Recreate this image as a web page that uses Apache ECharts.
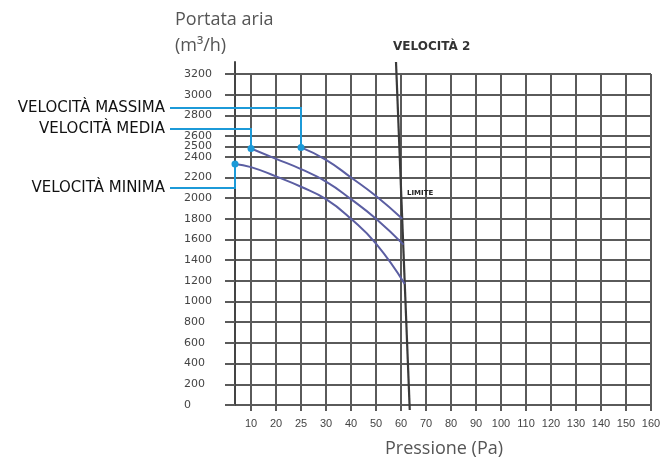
<!DOCTYPE html>
<html><head><meta charset="utf-8">
<script src="https://cdn.jsdelivr.net/npm/echarts@6/dist/echarts.min.js"></script>
<style>html,body{margin:0;padding:0;background:#fff}#c{width:670px;height:463px}</style>
</head><body><div id="c"></div>
<script>
// ---- data ----
const pressureLabels = ['10','20','25','30','40','50','60','70','80','90','100','110','120','130','140','150','160'];
const pressureValues = [10,20,25,30,40,50,60,70,80,90,100,110,120,130,140,150,160];
const flowTicks = [0,200,400,600,800,1000,1200,1400,1600,1800,2000,2200,2400,2500,2600,2800,3000,3200];

const massimaPa   = [25, 30, 40, 50, 60.5];
const massimaFlow = [2490, 2370, 2200, 2020, 1800];
const mediaPa     = [10, 20, 25, 30, 40, 50, 61];
const mediaFlow   = [2480, 2380, 2280, 2160, 1990, 1800, 1550];
const minimaPa    = [3.6, 10, 20, 25, 30, 40, 50, 61.5];
const minimaFlow  = [2330, 2300, 2210, 2110, 1990, 1800, 1560, 1170];
const limitePa    = [58, 63.5];
const limiteFlow  = [3316, -48];

const seriesNames = ['VELOCITÀ MASSIMA', 'VELOCITÀ MEDIA', 'VELOCITÀ MINIMA'];

// pressure (Pa) -> position on the (non-linear) pressure axis
function paToPos(pa) {
  const v = pressureValues, n = v.length;
  if (pa <= v[0]) return (pa - v[0]) / (v[1] - v[0]);
  for (let i = 0; i < n - 1; i++) {
    if (pa <= v[i + 1]) return i + (pa - v[i]) / (v[i + 1] - v[i]);
  }
  return (n - 1) + (pa - v[n - 1]) / (v[n - 1] - v[n - 2]);
}
const dotColor = '#1c9ad8';
function toData(pas, flows) {
  return pas.map((p, i) => {
    const item = { value: [paToPos(p), flows[i]] };
    if (i === 0) { item.symbol = 'circle'; item.symbolSize = 7; item.itemStyle = { color: dotColor }; }
    return item;
  });
}

const gridColor = '#5a5a5a';
const curveColor = '#5b5ea2';
const chart = echarts.init(document.getElementById('c'));
const curveSeries = (name, pas, flows) => ({
  name, type: 'line', xAxisIndex: 0, yAxisIndex: 0, smooth: 0.5, clip: false,
  symbol: 'none', showSymbol: true, data: toData(pas, flows),
  lineStyle: { color: curveColor, width: 2 }, itemStyle: { color: curveColor }, z: 5
});

chart.setOption({
  animation: false,
  title: [
    { text: 'Portata aria\n(m³/h)', left: 170, top: 2,
      textStyle: { fontFamily: 'Open Sans', fontSize: 18, fontWeight: 'normal', color: '#555', lineHeight: 26 } },
    { text: 'VELOCITÀ 2', left: 388, top: 36,
      textStyle: { fontFamily: 'DejaVu Sans', fontSize: 12, fontWeight: 'bold', color: '#333' } }
  ],
  grid: [
    { left: 235, right: 19, top: 62, bottom: 58 },
    { left: 251, right: 19, top: 74, bottom: 58 }
  ],
  xAxis: [
    // hidden positional axis spanning from the vertical axis line to the right border
    { gridIndex: 0, type: 'value', show: false, min: -0.64, max: pressureLabels.length - 1 },
    { gridIndex: 1, type: 'value', min: 0, max: pressureLabels.length - 1, interval: 1,
      axisLine: { lineStyle: { color: gridColor, width: 2 } },
      axisTick: { show: true, length: 6, lineStyle: { color: gridColor, width: 2 } },
      splitLine: { show: true, lineStyle: { color: gridColor, width: 2 } },
      axisLabel: { formatter: v => pressureLabels[Math.round(v)] || '', margin: 13,
        fontFamily: 'Liberation Sans', fontSize: 11, color: '#444' },
      name: 'Pressione (Pa)', nameLocation: 'middle', nameGap: 35,
      nameTextStyle: { fontFamily: 'Open Sans', fontSize: 18, color: '#555', padding: [0, 14, 0, 0] } }
  ],
  yAxis: [
    { gridIndex: 0, type: 'value', min: 0, max: 3316,
      axisLine: { show: true, onZero: false, lineStyle: { color: '#444', width: 2 } },
      axisTick: { show: true, length: 10, customValues: flowTicks, lineStyle: { color: gridColor, width: 2 } },
      axisLabel: { customValues: flowTicks, align: 'left', margin: 51, formatter: v => String(v),
        fontFamily: 'DejaVu Sans', fontSize: 11, color: '#444' },
      splitLine: { show: true, lineStyle: { color: gridColor, width: 2 } } },
    { gridIndex: 1, type: 'value', min: 0, max: 3200, show: false }
  ],
  series: [
    curveSeries(seriesNames[0], massimaPa, massimaFlow),
    curveSeries(seriesNames[1], mediaPa, mediaFlow),
    curveSeries(seriesNames[2], minimaPa, minimaFlow),
    { name: 'LIMITE', type: 'line', xAxisIndex: 0, yAxisIndex: 0, clip: false, symbol: 'none',
      data: limitePa.map((p, i) => [paToPos(p), limiteFlow[i]]),
      lineStyle: { color: '#3a3a3a', width: 2.2 }, z: 4 }
  ]
});

// annotations: labels on the left, connectors to the first point of each curve
const labelY = [108, 129, 188];
const seriesData = [[massimaPa, massimaFlow], [mediaPa, mediaFlow], [minimaPa, minimaFlow]];
const graphics = [];
seriesData.forEach((d, i) => {
  const pt = chart.convertToPixel({ seriesIndex: i }, [paToPos(d[0][0]), d[1][0]]);
  graphics.push({ type: 'text', x: 165, y: labelY[i], z: 10,
    style: { text: seriesNames[i], fill: '#111', font: '15px "DejaVu Sans"', textAlign: 'right', textVerticalAlign: 'middle' } });
  graphics.push({ type: 'polyline', z: 9,
    shape: { points: [[170, labelY[i]], [pt[0], labelY[i]], [pt[0], pt[1]]] },
    style: { stroke: dotColor, lineWidth: 2, fill: null } });
});
const lp = chart.convertToPixel({ seriesIndex: 3 }, [paToPos(61.2), 2050]);
graphics.push({ type: 'text', x: lp[0] + 3, y: lp[1], z: 10,
  style: { text: 'LIMITE', fill: '#222', font: 'bold 7px "DejaVu Sans"', textVerticalAlign: 'middle' } });
chart.setOption({ graphic: graphics });
</script>
</body></html>
